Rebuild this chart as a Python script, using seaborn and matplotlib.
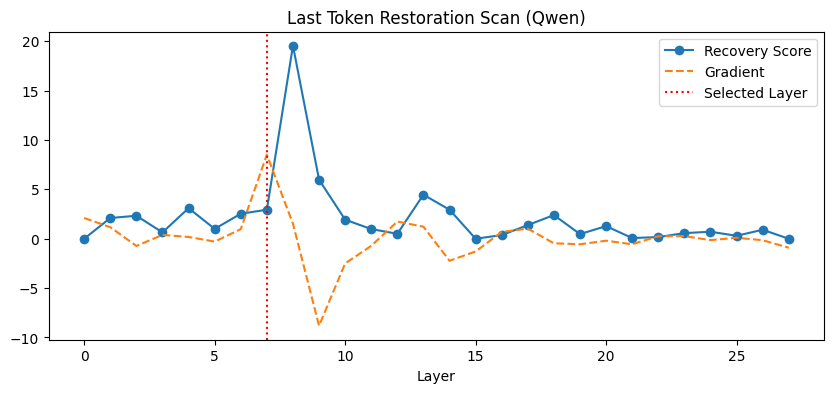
import pandas as pd
import numpy as np
import matplotlib
matplotlib.use('Agg')
import matplotlib.pyplot as plt
import seaborn as sns

# Per-layer recovery scores, plus their gradient
layers = list(range(28))
recovery = [0.0, 2.1, 2.33, 0.64, 3.1, 1.0, 2.53, 2.94, 19.55, 5.98,
            1.93, 0.98, 0.5, 4.46, 2.94, 0.0, 0.37, 1.38, 2.4, 0.47,
            1.28, 0.07, 0.17, 0.57, 0.71, 0.3, 0.91, 0.0]
gradient = [2.1, 1.17, -0.73, 0.39, 0.18, -0.29, 0.97, 8.51, 1.52, -8.81,
            -2.5, -0.72, 1.74, 1.22, -2.23, -1.29, 0.69, 1.02, -0.46, -0.56,
            -0.2, -0.56, 0.25, 0.27, -0.14, 0.1, -0.15, -0.91]
selected_layer = 7

df = pd.DataFrame({'layer': layers, 'recovery': recovery, 'gradient': gradient})

plt.figure(figsize=(10, 4))
ax = sns.lineplot(data=df, x='layer', y='recovery', marker='o', markersize=7,
                  markeredgewidth=0, label='Recovery Score', color='#1f77b4')
sns.lineplot(data=df, x='layer', y='gradient', linestyle='--',
             label='Gradient', color='#ff7f0e', ax=ax)
ax.axvline(selected_layer, color='red', linestyle=':', label='Selected Layer')

plt.title('Last Token Restoration Scan (Qwen)')
plt.xlabel('Layer')
plt.ylabel('')
plt.legend(loc='upper right')

plt.savefig('out.png', dpi=100, bbox_inches='tight')
